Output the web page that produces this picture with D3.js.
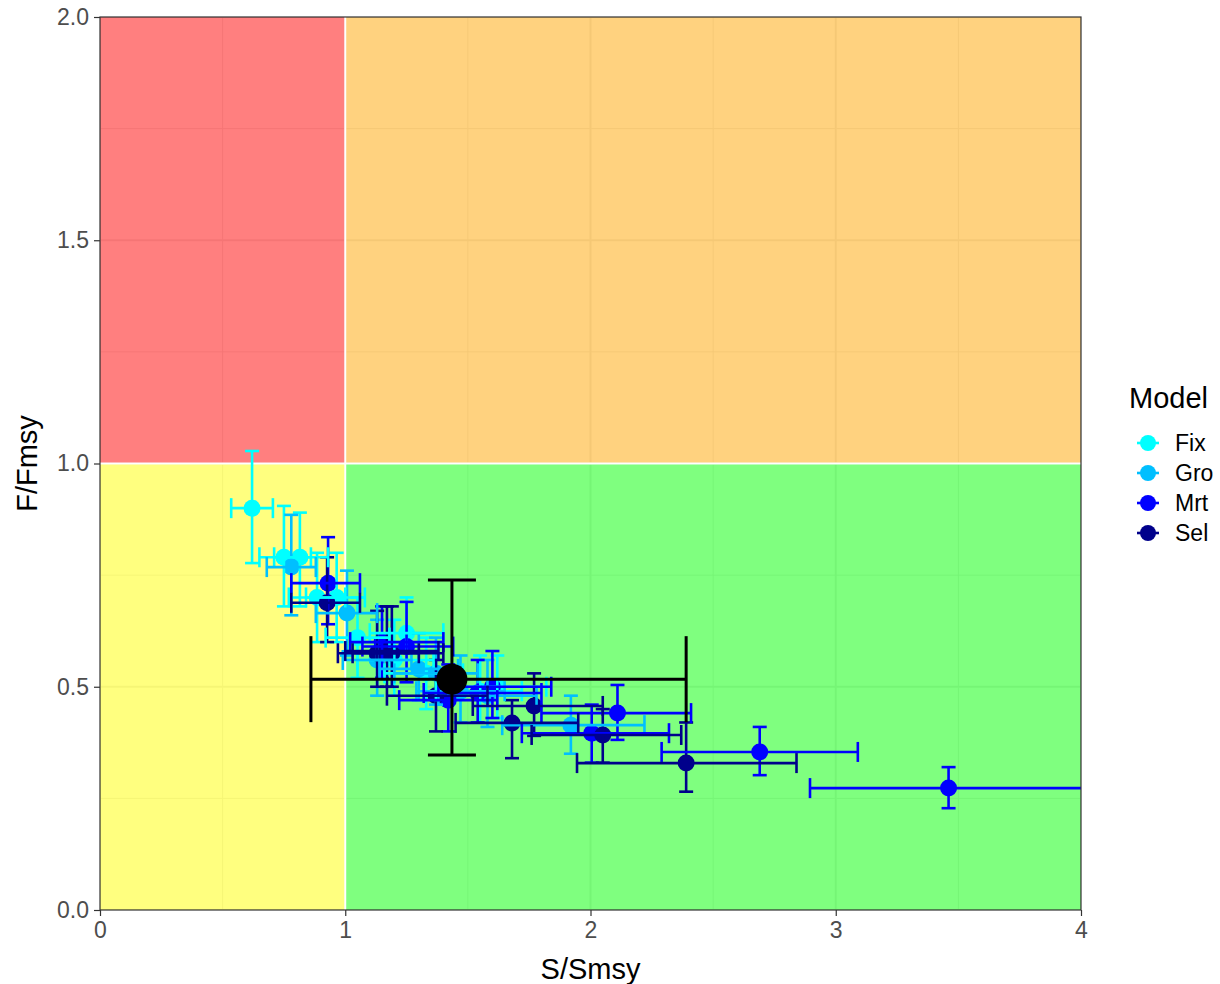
<!DOCTYPE html>
<html>
<head>
<meta charset="utf-8">
<script src="https://cdn.jsdelivr.net/npm/d3@7"></script>
<style>
  body { margin: 0; background: #fff; }
  svg { display: block; font-family: "Liberation Sans", Arial, sans-serif; }
</style>
</head>
<body>
<svg id="chart" width="1220" height="984"></svg>
<script>
// ---- data ----
const models = ["Fix", "Gro", "Mrt", "Sel"];
const modelColors = ["#00FFFF", "#00BFFF", "#0000FF", "#00008B"];
const xTicks = [0, 1, 2, 3, 4];
const yTicks = [0, 0.5, 1, 1.5, 2];
const yTickLabels = ["0.0", "0.5", "1.0", "1.5", "2.0"];

// each: model, S/Smsy (x), lower, upper, F/Fmsy (y), lower, upper
const ptModel = ["Fix","Fix","Fix","Fix","Fix","Fix","Fix","Fix","Fix","Fix","Fix",
                 "Gro","Gro","Gro","Gro","Gro","Gro","Gro","Gro",
                 "Mrt","Mrt","Mrt","Mrt","Mrt","Mrt","Mrt","Mrt","Mrt","Mrt",
                 "Sel","Sel","Sel","Sel","Sel","Sel","Sel","Sel","Sel"];
const ptX   = [0.62,0.75,0.815,0.885,0.965,1.05,1.25,1.33,1.55,1.20,1.62,
               0.78,1.007,1.13,1.37,1.58,1.92,1.30,1.47,
               0.93,1.15,1.25,1.54,1.60,2.005,2.11,2.69,3.46,1.42,
               0.926,1.17,1.37,1.68,1.77,2.05,2.39,1.19,1.13];
const ptXlo = [0.535,0.65,0.71,0.77,0.84,0.92,1.10,1.16,1.37,1.05,1.42,
               0.68,0.88,0.99,1.20,1.38,1.64,1.14,1.29,
               0.78,1.02,1.07,1.32,1.38,1.72,1.80,2.29,2.895,1.22,
               0.78,1.00,1.17,1.45,1.52,1.76,1.945,1.03,0.97];
const ptXhi = [0.705,0.86,0.93,1.00,1.08,1.18,1.40,1.48,1.72,1.36,1.82,
               0.88,1.13,1.27,1.54,1.78,2.22,1.46,1.65,
               1.06,1.40,1.44,1.80,1.84,2.32,2.41,3.09,4.2,1.62,
               1.06,1.38,1.58,1.95,2.05,2.37,2.84,1.40,1.30];
const ptY   = [0.90,0.79,0.79,0.70,0.70,0.61,0.62,0.53,0.49,0.56,0.50,
               0.768,0.665,0.56,0.53,0.48,0.414,0.54,0.49,
               0.732,0.60,0.59,0.486,0.50,0.396,0.441,0.354,0.273,0.47,
               0.688,0.58,0.48,0.419,0.457,0.392,0.329,0.575,0.575];
const ptYlo = [0.777,0.68,0.68,0.60,0.60,0.52,0.53,0.45,0.42,0.48,0.43,
               0.66,0.57,0.48,0.46,0.41,0.35,0.47,0.42,
               0.64,0.52,0.51,0.42,0.43,0.33,0.381,0.302,0.228,0.40,
               0.60,0.50,0.40,0.34,0.39,0.33,0.265,0.50,0.50];
const ptYhi = [1.028,0.905,0.89,0.80,0.80,0.70,0.70,0.61,0.57,0.65,0.57,
               0.885,0.76,0.65,0.61,0.56,0.48,0.62,0.57,
               0.835,0.68,0.69,0.56,0.58,0.46,0.504,0.41,0.32,0.55,
               0.79,0.68,0.56,0.47,0.53,0.45,0.42,0.68,0.67];

// overall (black) estimate
const refX = [1.435], refXlo = [0.86], refXhi = [2.39];
const refY = [0.517], refYlo = [0.347], refYhi = [0.739];

// zones
const zoneX0 = [0, 1, 0, 1], zoneX1 = [1, 4, 1, 4];
const zoneY0 = [1, 1, 0, 0], zoneY1 = [2, 2, 1, 1];
const zoneFill = ["#FF0000", "#FFA500", "#FFFF00", "#00FF00"];

// ---- layout ----
const svg = d3.select("#chart");
const L = 100, R = 1081, T = 17, B = 910;
const x = d3.scaleLinear().domain([0, 4]).range([L, R]);
const y = d3.scaleLinear().domain([0, 2]).range([B, T]);
const color = d3.scaleOrdinal().domain(models).range(modelColors);

const defs = svg.append("defs");
defs.append("clipPath").attr("id", "clip").append("rect")
  .attr("x", L).attr("y", T).attr("width", R - L).attr("height", B - T);

const panel = svg.append("g").attr("clip-path", "url(#clip)");
panel.append("rect").attr("x", L).attr("y", T).attr("width", R - L).attr("height", B - T).attr("fill", "#fff");

// grid
const xMinor = [0.5, 1.5, 2.5, 3.5], yMinor = [0.25, 0.75, 1.25, 1.75];
panel.selectAll(".gxm").data(xMinor).enter().append("line")
  .attr("x1", d => x(d)).attr("x2", d => x(d)).attr("y1", T).attr("y2", B)
  .attr("stroke", "#EBEBEB").attr("stroke-width", 1);
panel.selectAll(".gym").data(yMinor).enter().append("line")
  .attr("y1", d => y(d)).attr("y2", d => y(d)).attr("x1", L).attr("x2", R)
  .attr("stroke", "#EBEBEB").attr("stroke-width", 1);
panel.selectAll(".gx").data(xTicks).enter().append("line")
  .attr("x1", d => x(d)).attr("x2", d => x(d)).attr("y1", T).attr("y2", B)
  .attr("stroke", "#EBEBEB").attr("stroke-width", 2);
panel.selectAll(".gy").data(yTicks).enter().append("line")
  .attr("y1", d => y(d)).attr("y2", d => y(d)).attr("x1", L).attr("x2", R)
  .attr("stroke", "#EBEBEB").attr("stroke-width", 2);

// zones
panel.selectAll(".zone").data(zoneFill).enter().append("rect")
  .attr("x", (d, i) => x(zoneX0[i])).attr("width", (d, i) => x(zoneX1[i]) - x(zoneX0[i]))
  .attr("y", (d, i) => y(zoneY1[i])).attr("height", (d, i) => y(zoneY0[i]) - y(zoneY1[i]))
  .attr("fill", d => d).attr("fill-opacity", 0.5);

// white reference lines
panel.append("line").attr("x1", x(1)).attr("x2", x(1)).attr("y1", T).attr("y2", B)
  .attr("stroke", "#fff").attr("stroke-width", 2);
panel.append("line").attr("y1", y(1)).attr("y2", y(1)).attr("x1", L).attr("x2", R)
  .attr("stroke", "#fff").attr("stroke-width", 2);

const pts = ptX.map((v, i) => ({
  m: ptModel[i], x: v, xlo: ptXlo[i], xhi: ptXhi[i], y: ptY[i], ylo: ptYlo[i], yhi: ptYhi[i]
})).sort((a, b) => models.indexOf(a.m) - models.indexOf(b.m));

// points (drawn beneath the error bars)
panel.append("g").selectAll("circle").data(pts).enter().append("circle")
  .attr("cx", d => x(d.x)).attr("cy", d => y(d.y)).attr("r", 8.5)
  .attr("fill", d => color(d.m));

const capV = 7, capH = 10, lw = 2.6;
const gv = panel.append("g");
pts.forEach(d => {
  const c = color(d.m);
  gv.append("line").attr("x1", x(d.x)).attr("x2", x(d.x)).attr("y1", y(d.ylo)).attr("y2", y(d.yhi)).attr("stroke", c).attr("stroke-width", lw);
  gv.append("line").attr("x1", x(d.x) - capV).attr("x2", x(d.x) + capV).attr("y1", y(d.ylo)).attr("y2", y(d.ylo)).attr("stroke", c).attr("stroke-width", lw);
  gv.append("line").attr("x1", x(d.x) - capV).attr("x2", x(d.x) + capV).attr("y1", y(d.yhi)).attr("y2", y(d.yhi)).attr("stroke", c).attr("stroke-width", lw);
});
const gh = panel.append("g");
pts.forEach(d => {
  const c = color(d.m);
  gh.append("line").attr("x1", x(d.xlo)).attr("x2", x(d.xhi)).attr("y1", y(d.y)).attr("y2", y(d.y)).attr("stroke", c).attr("stroke-width", lw);
  gh.append("line").attr("x1", x(d.xlo)).attr("x2", x(d.xlo)).attr("y1", y(d.y) - capH).attr("y2", y(d.y) + capH).attr("stroke", c).attr("stroke-width", lw);
  gh.append("line").attr("x1", x(d.xhi)).attr("x2", x(d.xhi)).attr("y1", y(d.y) - capH).attr("y2", y(d.y) + capH).attr("stroke", c).attr("stroke-width", lw);
});

// black overall estimate
const gb = panel.append("g");
refX.forEach((v, i) => {
  const cx = x(v), cy = y(refY[i]);
  const vc = 24, hc = 43;
  gb.append("line").attr("x1", cx).attr("x2", cx).attr("y1", y(refYlo[i])).attr("y2", y(refYhi[i])).attr("stroke", "#000").attr("stroke-width", 3);
  gb.append("line").attr("x1", cx - vc).attr("x2", cx + vc).attr("y1", y(refYlo[i])).attr("y2", y(refYlo[i])).attr("stroke", "#000").attr("stroke-width", 3);
  gb.append("line").attr("x1", cx - vc).attr("x2", cx + vc).attr("y1", y(refYhi[i])).attr("y2", y(refYhi[i])).attr("stroke", "#000").attr("stroke-width", 3);
  gb.append("line").attr("x1", x(refXlo[i])).attr("x2", x(refXhi[i])).attr("y1", cy).attr("y2", cy).attr("stroke", "#000").attr("stroke-width", 3);
  gb.append("line").attr("x1", x(refXlo[i])).attr("x2", x(refXlo[i])).attr("y1", cy - hc).attr("y2", cy + hc).attr("stroke", "#000").attr("stroke-width", 3);
  gb.append("line").attr("x1", x(refXhi[i])).attr("x2", x(refXhi[i])).attr("y1", cy - hc).attr("y2", cy + hc).attr("stroke", "#000").attr("stroke-width", 3);
  gb.append("circle").attr("cx", cx).attr("cy", cy).attr("r", 15.5).attr("fill", "#000");
});

// panel border
svg.append("rect").attr("x", L).attr("y", T).attr("width", R - L).attr("height", B - T)
  .attr("fill", "none").attr("stroke", "#333333").attr("stroke-width", 1.2);

// axes
const xAxis = svg.append("g").attr("transform", `translate(0,${B})`)
  .call(d3.axisBottom(x).tickValues(xTicks).tickFormat(d3.format("d")).tickSize(6).tickPadding(6));
const yAxis = svg.append("g").attr("transform", `translate(${L},0)`)
  .call(d3.axisLeft(y).tickValues(yTicks).tickFormat((d, i) => yTickLabels[i]).tickSize(6).tickPadding(5));
[xAxis, yAxis].forEach(a => {
  a.select(".domain").remove();
  a.selectAll(".tick line").attr("stroke", "#333333").attr("stroke-width", 1.2);
  a.selectAll(".tick text").attr("fill", "#4D4D4D").style("font-size", "23px")
    .style("font-family", '"Liberation Sans", Arial, sans-serif');
});

svg.append("text").attr("x", (L + R) / 2).attr("y", 979).attr("text-anchor", "middle")
  .style("font-size", "29px").attr("fill", "#000").text("S/Smsy");
svg.append("text").attr("transform", `translate(37,${(T + B) / 2}) rotate(-90)`).attr("text-anchor", "middle")
  .style("font-size", "29px").attr("fill", "#000").text("F/Fmsy");

// legend
const lg = svg.append("g");
lg.append("text").attr("x", 1129).attr("y", 408).style("font-size", "29px").attr("fill", "#000").text("Model");
models.forEach((m, i) => {
  const cy = 443 + i * 30;
  lg.append("line").attr("x1", 1137).attr("x2", 1159).attr("y1", cy).attr("y2", cy)
    .attr("stroke", modelColors[i]).attr("stroke-width", lw);
  lg.append("circle").attr("cx", 1148).attr("cy", cy).attr("r", 8).attr("fill", modelColors[i]);
  lg.append("text").attr("x", 1175).attr("y", cy + 8).style("font-size", "23px").attr("fill", "#000").text(m);
});
</script>
</body>
</html>
